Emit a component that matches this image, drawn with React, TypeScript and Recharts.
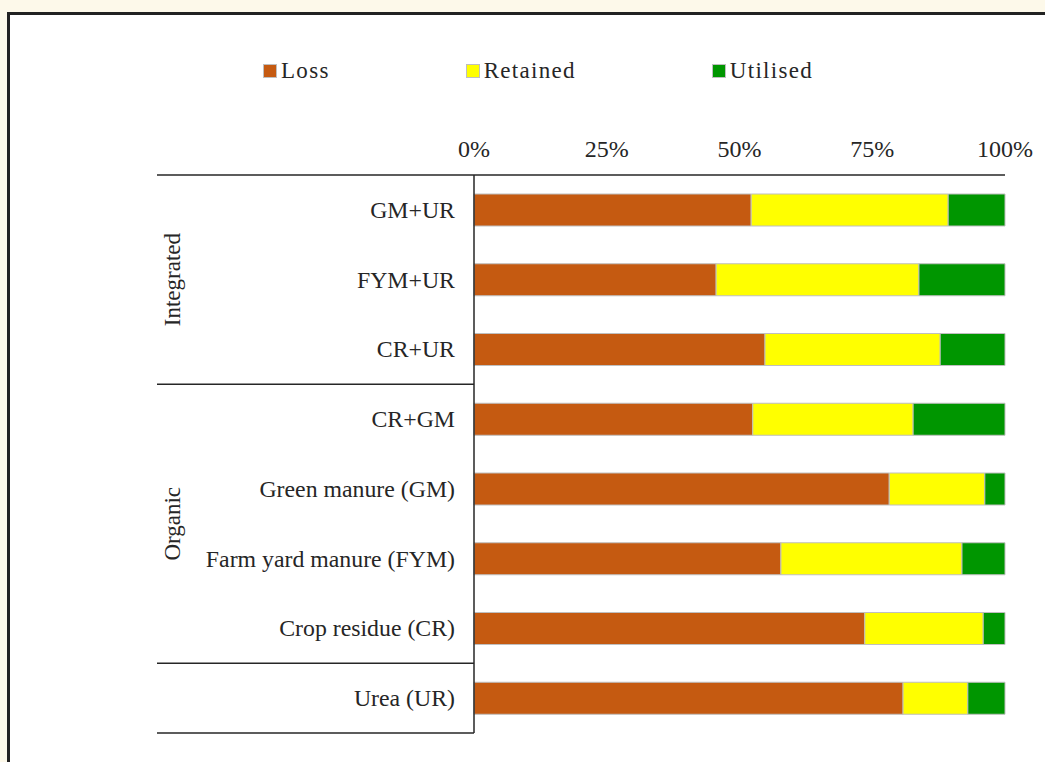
import React from 'react';
import { BarChart, Bar, XAxis, YAxis, Legend } from 'recharts';

// Nitrogen fate per treatment, % of applied
const categories = [
  'GM+UR',
  'FYM+UR',
  'CR+UR',
  'CR+GM',
  'Green manure (GM)',
  'Farm yard manure (FYM)',
  'Crop residue (CR)',
  'Urea (UR)',
];
const loss = [52.2, 45.6, 54.8, 52.5, 78.2, 57.8, 73.6, 80.8];
const retained = [37.1, 38.2, 33.0, 30.2, 18.0, 34.1, 22.3, 12.2];
const utilised = [10.7, 16.2, 12.2, 17.3, 3.8, 8.1, 4.1, 7.0];

// treatment groups: index range of categories in each
const groups = [
  { name: 'Integrated', first: 0, last: 2 },
  { name: 'Organic', first: 3, last: 6 },
  { name: '', first: 7, last: 7 },
];

const xTicks = [0, 25, 50, 75, 100];

const data = categories.map((name, i) => ({
  name,
  Loss: loss[i],
  Retained: retained[i],
  Utilised: utilised[i],
}));

const FONT = '"Liberation Serif", "Times New Roman", serif';
const INK = '#262626';
const LABEL_GAP = 19;
const SEP_LEFT = 157;
const GROUP_X = 172;

const CategoryTick = (props: any) => {
  const { x, y, payload, index } = props;
  const half = payload.offset ?? 0;
  const axisX = x + LABEL_GAP;
  const lines: React.ReactNode[] = [];
  groups.forEach((g, gi) => {
    if (index === g.first && gi === 0) {
      lines.push(<line key="top" x1={SEP_LEFT} x2={axisX} y1={y - half} y2={y - half} stroke={INK} strokeWidth={1.5} />);
    }
    if (index === g.last) {
      lines.push(<line key="bot" x1={SEP_LEFT} x2={axisX} y1={y + half} y2={y + half} stroke={INK} strokeWidth={1.5} />);
    }
    if (index === g.first && g.name) {
      const cy = y + (g.last - g.first) * half;
      lines.push(
        <text
          key="grp"
          x={GROUP_X}
          y={cy}
          transform={`rotate(-90 ${GROUP_X} ${cy})`}
          textAnchor="middle"
          dominantBaseline="central"
          fontFamily={FONT}
          fontSize={23}
          fill={INK}
        >
          {g.name}
        </text>
      );
    }
  });
  return (
    <g>
      {lines}
      <text x={x} y={y} textAnchor="end" dominantBaseline="central" fontFamily={FONT} fontSize={23.8} fill={INK}>
        {payload.value}
      </text>
    </g>
  );
};

const LegendContent = (props: any) => {
  const { payload } = props;
  return (
    <div style={{ height: 45, display: 'flex', alignItems: 'center', paddingLeft: 263, gap: 136 }}>
      {(payload || []).map((p: any) => (
        <div key={p.value} style={{ display: 'flex', alignItems: 'center' }}>
          <span style={{ width: 12, height: 12, background: p.color, border: '1px solid #bfbfbf', marginRight: 4 }} />
          <span style={{ fontFamily: FONT, fontSize: 23, color: INK, letterSpacing: 1.3 }}>{p.value}</span>
        </div>
      ))}
    </div>
  );
};

export default function App() {
  return (
    <div style={{ position: 'absolute', left: 0, top: 0, width: 1045, height: 762, background: '#fdf9ea', overflow: 'hidden' }}>
      <div
        style={{
          position: 'absolute',
          left: 7,
          top: 12,
          width: 1100,
          height: 800,
          background: '#fff',
          borderLeft: '3px solid #222',
          borderTop: '3px solid #222',
        }}
      />
      <div style={{ position: 'absolute', left: 0, top: 0 }}>
        <BarChart
          width={1045}
          height={762}
          data={data}
          layout="vertical"
          barSize={32}
          margin={{ top: 48, right: 40, bottom: 29, left: 0 }}
        >
          <Legend verticalAlign="top" align="left" content={<LegendContent />} />
          <XAxis
            type="number"
            orientation="top"
            domain={[0, 100]}
            ticks={xTicks}
            tickFormatter={(v: number) => `${v}%`}
            height={82}
            tickSize={0}
            tickMargin={18}
            tickLine={false}
            axisLine={{ stroke: INK, strokeWidth: 1.5 }}
            tick={{ fontFamily: FONT, fontSize: 24, fill: INK }}
          />
          <YAxis
            type="category"
            dataKey="name"
            width={474}
            tickSize={0}
            tickMargin={LABEL_GAP}
            tickLine={false}
            interval={0}
            axisLine={{ stroke: INK, strokeWidth: 1.5 }}
            tick={<CategoryTick />}
          />
          <Bar dataKey="Loss" stackId="a" fill="#c55a11" stroke="#bfbfbf" strokeWidth={1} isAnimationActive={false} />
          <Bar dataKey="Retained" stackId="a" fill="#ffff00" stroke="#bfbfbf" strokeWidth={1} isAnimationActive={false} />
          <Bar dataKey="Utilised" stackId="a" fill="#009600" stroke="#bfbfbf" strokeWidth={1} isAnimationActive={false} />
        </BarChart>
      </div>
    </div>
  );
}
